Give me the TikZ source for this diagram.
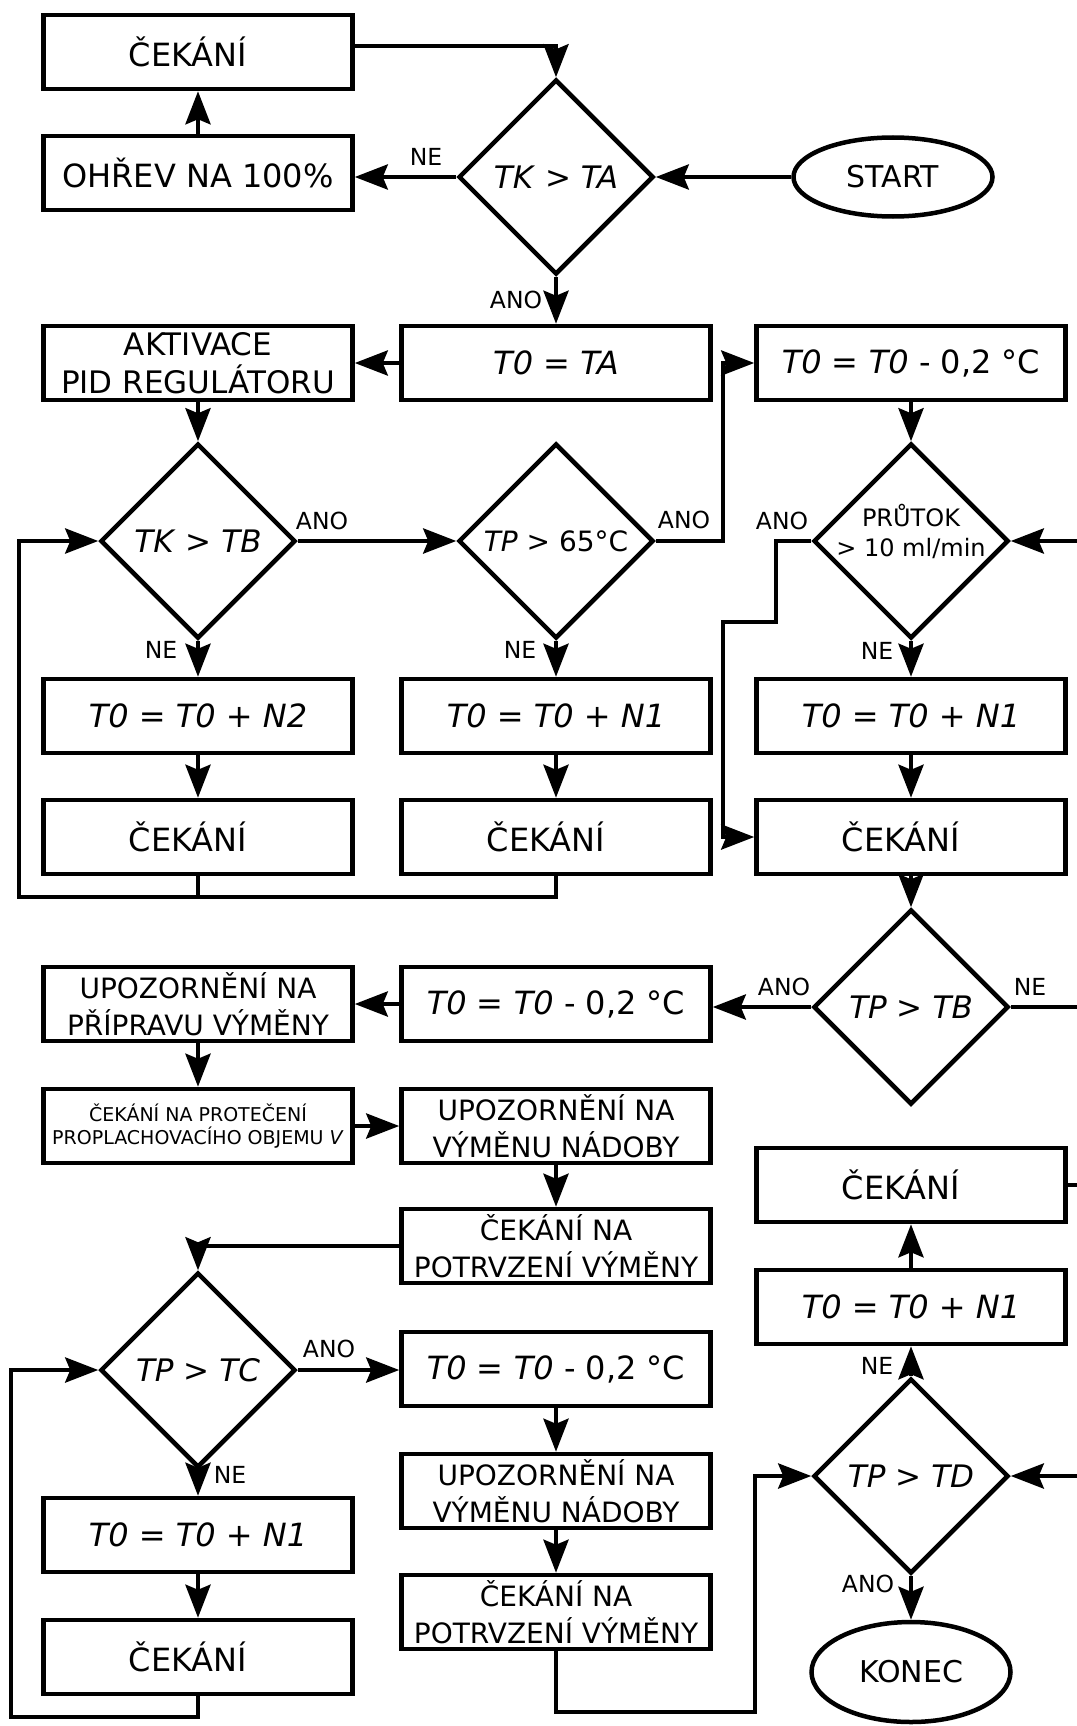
\documentclass[tikz,border=0pt]{standalone}
\usepackage{fontspec}
\setmainfont{DejaVu Sans}
\usetikzlibrary{shapes.geometric,arrows.meta}
\newcommand\fsmain{\fontsize{32pt}{37pt}\selectfont}
\newcommand\fsdia{\fontsize{31pt}{37pt}\selectfont}
\newcommand\fstwo{\fontsize{28pt}{37pt}\selectfont}
\newcommand\fsakt{\fontsize{31pt}{38pt}\selectfont}
\newcommand\fssmall{\fontsize{19pt}{23pt}\selectfont}
\newcommand\fslbl{\fontsize{23.5pt}{28pt}\selectfont}
\newcommand\fsflow{\fontsize{24pt}{30pt}\selectfont}
\newcommand\waittxt{ČEKÁNÍ\hspace*{20pt}}
\begin{document}
\begin{tikzpicture}[x=1pt,y=-1pt,
  box/.style={draw, line width=4.5pt, minimum width=309pt, minimum height=74pt, inner sep=0pt, align=center, font=\fsmain},
  twobox/.style={box, font=\fstwo},
  dia/.style={draw, diamond, line width=4.5pt, minimum width=195pt, minimum height=195pt, inner sep=0pt, font=\fsdia},
  term/.style={draw, ellipse, line width=4.5pt, inner sep=0pt, font=\fsmain},
  conn/.style={line width=4.5pt, -{Stealth[length=33pt,width=25pt,inset=5pt]}},
  plain/.style={line width=4.5pt},
  lbl/.style={font=\fslbl, inner sep=0pt},
]
\useasboundingbox[fill=white] (0,0) rectangle (1076,1726);

% nodes
\node[box] (c1) at (198,52) {\waittxt};
\node[box] (oh) at (198,173) {OHŘEV NA 100\%};
\node[dia] (d1) at (556,177) {\textit{TK} > \textit{TA}};
\node[term, minimum width=199pt, minimum height=79pt, font=\fontsize{30pt}{36pt}\selectfont] (st) at (893,177) {START};

\node[box, font=\fsakt] (akt) at (198,363) {AKTIVACE\\PID REGULÁTORU};
\node[box] (ta) at (556,363) {\textit{T0} = \textit{TA}};
\node[box] (m1) at (911,363) {\textit{T0} = \textit{T0} - 0,2 °C};

\node[dia] (d2) at (198,541) {\textit{TK} > \textit{TB}};
\node[dia, font=\fontsize{28pt}{34pt}\selectfont] (d3) at (556,541) {\textit{TP} > 65°C};
\node[dia] (d4) at (911,541) {};
\node[font=\fsflow, align=center, inner sep=0pt] (d4t) at (911,531) {PRŮTOK\\> 10 ml/min};

\node[box] (n2) at (198,716) {\textit{T0 = T0 + N2}};
\node[box] (n1a) at (556,716) {\textit{T0 = T0 + N1}};
\node[box] (n1b) at (911,716) {\textit{T0 = T0 + N1}};

\node[box] (w1) at (198,837) {\waittxt};
\node[box] (w2) at (556,837) {\waittxt};
\node[box] (w3) at (911,837) {\waittxt};

\node[dia] (d5) at (911,1007) {\textit{TP} > \textit{TB}};
\node[twobox] (up1) at (198,1004) {UPOZORNĚNÍ NA\\PŘÍPRAVU VÝMĚNY};
\node[box] (m2) at (556,1004) {\textit{T0} = \textit{T0} - 0,2 °C};

\node[box, font=\fssmall] (pr) at (198,1126) {ČEKÁNÍ NA PROTEČENÍ\\PROPLACHOVACÍHO OBJEMU \textit{V}};
\node[twobox] (up2) at (556,1126) {UPOZORNĚNÍ NA\\VÝMĚNU NÁDOBY};
\node[box] (w4) at (911,1185) {\waittxt};
\node[twobox] (pt1) at (556,1246) {ČEKÁNÍ NA\\POTRVZENÍ VÝMĚNY};
\node[box] (n1c) at (911,1307) {\textit{T0 = T0 + N1}};

\node[dia] (d6) at (198,1370) {\textit{TP} > \textit{TC}};
\node[box] (m3) at (556,1369) {\textit{T0} = \textit{T0} - 0,2 °C};
\node[twobox] (up3) at (556,1491) {UPOZORNĚNÍ NA\\VÝMĚNU NÁDOBY};
\node[dia] (d7) at (911,1476) {\textit{TP} > \textit{TD}};
\node[box] (n1d) at (198,1535) {\textit{T0 = T0 + N1}};
\node[twobox] (pt2) at (556,1612) {ČEKÁNÍ NA\\POTRVZENÍ VÝMĚNY};
\node[box] (w5) at (198,1657) {\waittxt};
\node[term, minimum width=199pt, minimum height=100pt, font=\fontsize{30pt}{36pt}\selectfont] (ko) at (911,1672) {KONEC};

% helper coordinates
\coordinate (k1) at (723,363);
\coordinate (k2) at (776,622);
\coordinate (k3) at (723,837);
\coordinate (lp1) at (19,897);
\coordinate (lp2) at (11,1717);
\coordinate (lp3) at (755,1712);
\coordinate (e1) at (1080,541);
\coordinate (e2) at (1080,1007);
\coordinate (e3) at (1080,1185);
\coordinate (e4) at (1080,1476);

% connectors
\draw[conn] ([yshift=6pt]c1.east) -| (d1.north);
\draw[conn] (oh.north) -- (c1.south);
\draw[conn] (d1.west) -- (d1.west -| oh.east);
\draw[conn] (st.west) -- (d1.east);
\draw[conn] (d1.south) -- (ta.north);
\draw[conn] (ta.west) -- (akt.east);
\draw[conn] (akt.south) -- (d2.north);
\draw[conn] (d2.east) -- (d3.west);
\draw[conn] (d3.east) -| (k1) -- (m1.west);
\draw[conn] (m1.south) -- (d4.north);
\draw[conn] (e1) -- (d4.east);
\draw[conn] (d4.south) -- (n1b.north);
\draw[conn] (n1b.south) -- (w3.north);
\draw[conn] (d4.west) -| (k2) -| (k3) -- (w3.west);
\draw[conn] (d2.south) -- (n2.north);
\draw[conn] (n2.south) -- (w1.north);
\draw[conn] (d3.south) -- (n1a.north);
\draw[conn] (n1a.south) -- (w2.north);
\draw[plain] (w1.south) -- (w1.south |- lp1);
\draw[conn] (w2.south) |- (lp1) |- (d2.west);
\draw[conn] (w3.south) -- (d5.north);
\draw[plain] (d5.east) -- (e2);
\draw[conn] (d5.west) -- (d5.west -| m2.east);
\draw[conn] (m2.west) -- (up1.east);
\draw[conn] (up1.south) -- (pr.north);
\draw[conn] (pr.east) -- (up2.west);
\draw[conn] (up2.south) -- (pt1.north);
\draw[conn] (pt1.west) -| (d6.north);
\draw[conn] (d6.east) -- (d6.east -| m3.west);
\draw[conn] (d6.south) -- (n1d.north);
\draw[conn] (n1d.south) -- (w5.north);
\draw[conn] (w5.south) |- (lp2) |- (d6.west);
\draw[conn] (m3.south) -- (up3.north);
\draw[conn] (up3.south) -- (pt2.north);
\draw[conn] (pt2.south) |- (lp3) |- (d7.west);
\draw[plain] (w4.east) -- (e3);
\draw[conn] (e4) -- (d7.east);
\draw[conn] (d7.north) -- (n1c.south);
\draw[conn] (n1c.north) -- (w4.south);
\draw[conn] (d7.south) -- (ko.north);

% labels
\node[lbl] (l1) at (426,157) {NE};
\node[lbl] (l2) at (516,300) {ANO};
\node[lbl] (l3) at (322,521) {ANO};
\node[lbl] (l4) at (161,650) {NE};
\node[lbl] (l5) at (684,520) {ANO};
\node[lbl] (l6) at (520,650) {NE};
\node[lbl] (l7) at (782,521) {ANO};
\node[lbl] (l8) at (877,651) {NE};
\node[lbl] (l9) at (784,987) {ANO};
\node[lbl] (l10) at (1030,987) {NE};
\node[lbl] (l11) at (329,1349) {ANO};
\node[lbl] (l12) at (230,1475) {NE};
\node[lbl] (l13) at (877,1366) {NE};
\node[lbl] (l14) at (868,1584) {ANO};
\end{tikzpicture}
\end{document}
